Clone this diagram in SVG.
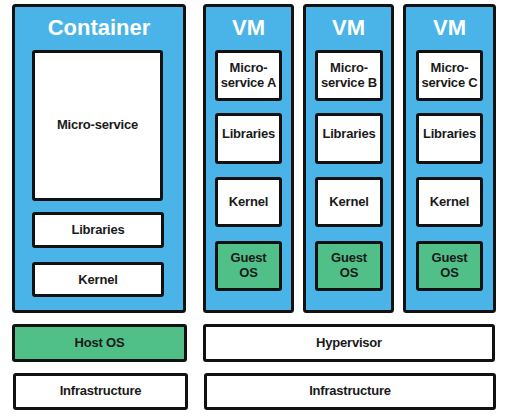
<svg xmlns="http://www.w3.org/2000/svg" width="506" height="416" viewBox="0 0 506 416">
<style>
.outer{fill:#4AB4E8;stroke:#111;stroke-width:3}
.box{fill:#fff;stroke:#111;stroke-width:3}
.green{fill:#50C088;stroke:#111;stroke-width:3}
.title{font-family:"Liberation Sans",Arial,sans-serif;font-weight:bold;font-size:22px;fill:#fff;text-anchor:middle}
.lbl{font-family:"Liberation Sans",Arial,sans-serif;font-weight:bold;font-size:13px;fill:#1a1a1a;text-anchor:middle;letter-spacing:-0.2px}
</style>
<rect width="506" height="416" fill="#fff"/>
<g id="container">
<rect class="outer" x="13.5" y="5.5" width="171" height="306" rx="2"/>
<text class="title" x="99" y="35">Container</text>
<g id="c-micro"><rect class="box" x="33.5" y="51.5" width="128" height="148" rx="1.5"/><text class="lbl" x="97.5" y="129">Micro-service</text></g>
<g id="c-lib"><rect class="box" x="33.5" y="213.5" width="129" height="33" rx="1.5"/><text class="lbl" x="98" y="234">Libraries</text></g>
<g id="c-kernel"><rect class="box" x="33.5" y="263.5" width="129" height="32" rx="1.5"/><text class="lbl" x="98" y="284">Kernel</text></g>
</g>
<g id="vm1">
<rect class="outer" x="204.5" y="5.5" width="88" height="306" rx="2"/>
<text class="title" x="248.5" y="35">VM</text>
<g id="vm1-micro"><rect class="box" x="216.5" y="51.5" width="64" height="48" rx="1.5"/><text class="lbl" x="248.5" y="72">Micro-</text><text class="lbl" x="248.5" y="87">service A</text></g>
<g id="vm1-lib"><rect class="box" x="216.5" y="114.5" width="64" height="48" rx="1.5"/><text class="lbl" x="248.5" y="138">Libraries</text></g>
<g id="vm1-kernel"><rect class="box" x="216.5" y="178.5" width="64" height="47" rx="1.5"/><text class="lbl" x="248.5" y="206">Kernel</text></g>
<g id="vm1-guest"><rect class="green" x="216.5" y="242.5" width="64" height="47" rx="1.5"/><text class="lbl" x="248.5" y="262">Guest</text><text class="lbl" x="248.5" y="277">OS</text></g>
</g>
<g id="vm2">
<rect class="outer" x="304.5" y="5.5" width="88" height="306" rx="2"/>
<text class="title" x="348.5" y="35">VM</text>
<g id="vm2-micro"><rect class="box" x="316.5" y="51.5" width="65" height="48" rx="1.5"/><text class="lbl" x="349" y="72">Micro-</text><text class="lbl" x="349" y="87">service B</text></g>
<g id="vm2-lib"><rect class="box" x="316.5" y="114.5" width="65" height="48" rx="1.5"/><text class="lbl" x="349" y="138">Libraries</text></g>
<g id="vm2-kernel"><rect class="box" x="316.5" y="178.5" width="65" height="47" rx="1.5"/><text class="lbl" x="349" y="206">Kernel</text></g>
<g id="vm2-guest"><rect class="green" x="316.5" y="242.5" width="65" height="47" rx="1.5"/><text class="lbl" x="349" y="262">Guest</text><text class="lbl" x="349" y="277">OS</text></g>
</g>
<g id="vm3">
<rect class="outer" x="404.5" y="5.5" width="90" height="306" rx="2"/>
<text class="title" x="449.5" y="35">VM</text>
<g id="vm3-micro"><rect class="box" x="417.5" y="51.5" width="64" height="48" rx="1.5"/><text class="lbl" x="449.5" y="72">Micro-</text><text class="lbl" x="449.5" y="87">service C</text></g>
<g id="vm3-lib"><rect class="box" x="417.5" y="114.5" width="64" height="48" rx="1.5"/><text class="lbl" x="449.5" y="138">Libraries</text></g>
<g id="vm3-kernel"><rect class="box" x="417.5" y="178.5" width="64" height="47" rx="1.5"/><text class="lbl" x="449.5" y="206">Kernel</text></g>
<g id="vm3-guest"><rect class="green" x="417.5" y="242.5" width="64" height="47" rx="1.5"/><text class="lbl" x="449.5" y="262">Guest</text><text class="lbl" x="449.5" y="277">OS</text></g>
</g>
<g id="hostos"><rect class="green" x="13.5" y="325.5" width="172" height="35" rx="1.5"/><text class="lbl" x="99.5" y="347">Host OS</text></g>
<g id="hypervisor"><rect class="box" x="204.5" y="325.5" width="289" height="35" rx="1.5"/><text class="lbl" x="349" y="347">Hypervisor</text></g>
<g id="infra1"><rect class="box" x="14.5" y="374.5" width="172" height="34" rx="1.5"/><text class="lbl" x="100.5" y="395">Infrastructure</text></g>
<g id="infra2"><rect class="box" x="205.5" y="374.5" width="289" height="34" rx="1.5"/><text class="lbl" x="350" y="395">Infrastructure</text></g>
<g id="connectors"></g>
</svg>
